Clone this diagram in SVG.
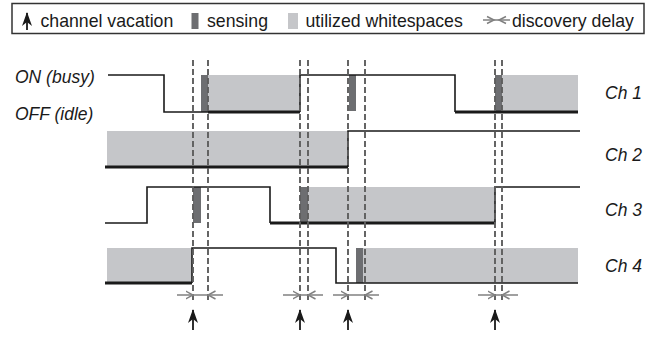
<svg xmlns="http://www.w3.org/2000/svg" width="661" height="338" viewBox="0 0 661 338">
<defs>
<style>
.t{font-family:"Liberation Sans",Arial,sans-serif;font-size:17.7px;fill:#1a1a1a}
.i{font-family:"Liberation Sans",Arial,sans-serif;font-size:17.5px;font-style:italic;fill:#1a1a1a}
.g{fill:#c5c6c9}
.s{fill:#6d6e71}
.thin{fill:none;stroke:#1a1a1a;stroke-width:1.6}
.thick{fill:none;stroke:#1a1a1a;stroke-width:3}
.dash{stroke:#5e5e5e;stroke-width:1.9;stroke-dasharray:6 3;fill:none}
.dl{stroke:#808080;stroke-width:1.5;fill:none}
.va{stroke:#1a1a1a;stroke-width:1.8;fill:none}
</style>
<marker id="ah" viewBox="0 0 8 10" refX="7.5" refY="5" markerWidth="8" markerHeight="10" markerUnits="userSpaceOnUse" orient="auto">
<path d="M0,1 L7.5,5 L0,9" fill="none" stroke="#808080" stroke-width="1.5"/>
</marker>
<marker id="up" viewBox="0 0 14 10" refX="13" refY="5" markerWidth="14" markerHeight="10" markerUnits="userSpaceOnUse" orient="auto">
<path d="M0,0 L14,5 L0,10 L4,5 Z" fill="#1a1a1a"/>
</marker>
</defs>

<g id="legend">
<rect x="12" y="3.5" width="632" height="30" fill="#fff" stroke="#333" stroke-width="1.5"/>
<line x1="27" y1="30" x2="27" y2="13" class="va" marker-end="url(#up)"/>
<text class="t" x="40.5" y="27">channel vacation</text>
<rect class="s" x="191.5" y="13" width="7" height="16"/>
<text class="t" x="207" y="27">sensing</text>
<rect class="g" x="288" y="13" width="10" height="16"/>
<text class="t" x="305.5" y="27">utilized whitespaces</text>
<line x1="483" y1="20" x2="510" y2="20" class="dl"/>
<path d="M487,16.5 L494,20 L487,23.5 M506,16.5 L499,20 L506,23.5" fill="none" stroke="#808080" stroke-width="1.5"/>
<text class="t" x="512" y="27">discovery delay</text>
</g>

<g id="labels">
<text class="i" x="15" y="83">ON (busy)</text>
<text class="i" x="15" y="120">OFF (idle)</text>
<text class="i" x="605" y="99">Ch 1</text>
<text class="i" x="605" y="161">Ch 2</text>
<text class="i" x="605" y="216">Ch 3</text>
<text class="i" x="605" y="272">Ch 4</text>
</g>

<g id="ch1">
<rect class="g" x="208" y="75" width="92" height="37"/>
<rect class="g" x="502" y="75" width="76" height="37"/>
<rect class="s" x="201" y="75" width="7" height="37"/>
<rect class="s" x="349" y="75" width="7" height="36"/>
<rect class="s" x="495" y="75" width="7" height="37"/>
<path class="thin" d="M108,75 H164 V112 H208"/>
<path class="thick" d="M208,112 H300"/>
<path class="thin" d="M300,112 V75 H455 V112"/>
<path class="thick" d="M455,112 H578"/>
</g>

<g id="ch2">
<rect class="g" x="107" y="131" width="241" height="36"/>
<path class="thick" d="M105,167 H348"/>
<path class="thin" d="M348,167 V131 H580"/>
</g>

<g id="ch3">
<rect class="g" x="308" y="187" width="187" height="36"/>
<rect class="s" x="193" y="187" width="8" height="36"/>
<rect class="s" x="300" y="187" width="8" height="36"/>
<path class="thin" d="M105,223 H147 V187 H270 V223"/>
<path class="thick" d="M270,223 H495"/>
<path class="thin" d="M495,223 V187 H580"/>
</g>

<g id="ch4">
<rect class="g" x="107" y="248" width="85" height="35"/>
<rect class="g" x="363" y="248" width="215" height="35"/>
<rect class="s" x="356" y="248" width="7" height="35"/>
<path class="thick" d="M105,283 H192"/>
<path class="thin" d="M192,283 V248 H336 V283 H578"/>
</g>

<g id="connectors">
<line class="dash" x1="193" y1="60" x2="193" y2="303"/>
<line class="dash" x1="208" y1="60" x2="208" y2="303"/>
<line class="dash" x1="300" y1="60" x2="300" y2="303"/>
<line class="dash" x1="308" y1="60" x2="308" y2="303"/>
<line class="dash" x1="348" y1="60" x2="348" y2="303"/>
<line class="dash" x1="365" y1="60" x2="365" y2="303"/>
<line class="dash" x1="495" y1="60" x2="495" y2="303"/>
<line class="dash" x1="502" y1="60" x2="502" y2="303"/>

<line class="dl" x1="177" y1="295" x2="193" y2="295" marker-end="url(#ah)"/>
<line class="dl" x1="223" y1="295" x2="208" y2="295" marker-end="url(#ah)"/>
<line class="dl" x1="193" y1="295" x2="208" y2="295"/>
<line class="dl" x1="283" y1="295" x2="300" y2="295" marker-end="url(#ah)"/>
<line class="dl" x1="323" y1="295" x2="308" y2="295" marker-end="url(#ah)"/>
<line class="dl" x1="300" y1="295" x2="308" y2="295"/>
<line class="dl" x1="333" y1="295" x2="348" y2="295" marker-end="url(#ah)"/>
<line class="dl" x1="379" y1="295" x2="365" y2="295" marker-end="url(#ah)"/>
<line class="dl" x1="348" y1="295" x2="365" y2="295"/>
<line class="dl" x1="478" y1="295" x2="495" y2="295" marker-end="url(#ah)"/>
<line class="dl" x1="518" y1="295" x2="502" y2="295" marker-end="url(#ah)"/>
<line class="dl" x1="495" y1="295" x2="502" y2="295"/>

<line class="va" x1="193" y1="330" x2="193" y2="310" marker-end="url(#up)"/>
<line class="va" x1="300" y1="330" x2="300" y2="310" marker-end="url(#up)"/>
<line class="va" x1="348" y1="330" x2="348" y2="310" marker-end="url(#up)"/>
<line class="va" x1="495" y1="330" x2="495" y2="310" marker-end="url(#up)"/>
</g>
</svg>
